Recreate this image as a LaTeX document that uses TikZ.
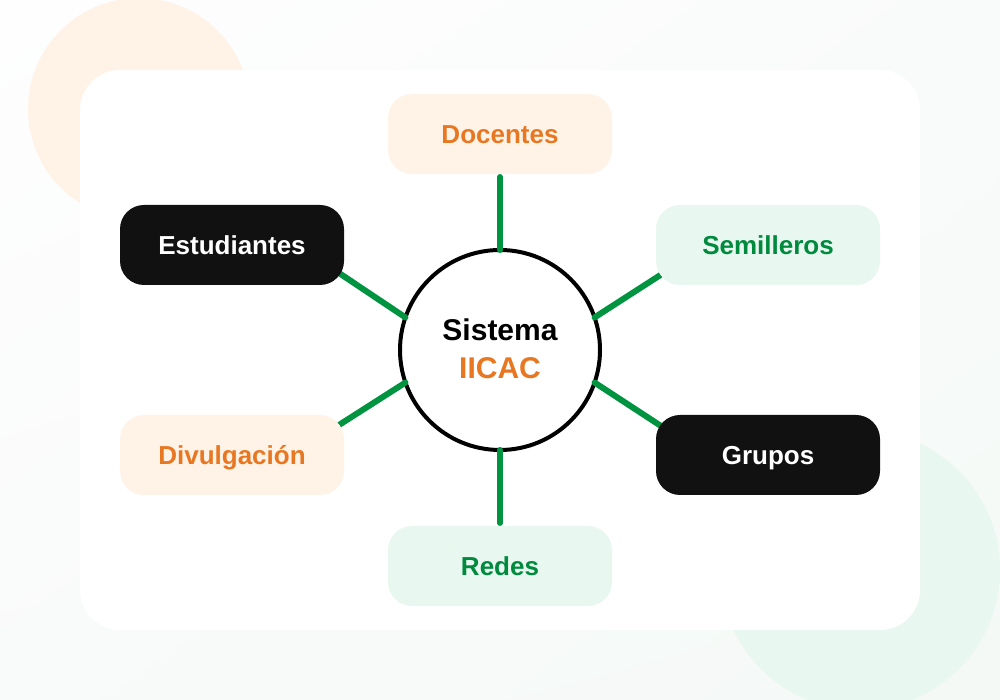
\documentclass[tikz,border=0pt]{standalone}
\usepackage{fontspec}
\setmainfont{Liberation Sans}
\usetikzlibrary{calc,shadings}
\definecolor{bgtl}{HTML}{FEFEFE}
\definecolor{bgtr}{HTML}{F9FBFA}
\definecolor{bgbl}{HTML}{F9FAFA}
\definecolor{bgbr}{HTML}{F4F9F6}
\definecolor{peach}{HTML}{FFF3E8}
\definecolor{mint}{HTML}{E8F7EF}
\definecolor{orangetxt}{HTML}{E87722}
\definecolor{greentxt}{HTML}{008A3E}
\definecolor{greenline}{HTML}{009440}
\definecolor{ink}{HTML}{111111}
\pgfdeclarelayer{bgl}
\pgfdeclarelayer{circ}
\pgfdeclarelayer{lines}
\pgfsetlayers{bgl,circ,lines,main}
\tikzset{
  box/.style={rectangle, rounded corners=24pt, minimum width=224pt, minimum height=80pt, inner sep=0pt, outer sep=0pt, text height=20pt, text depth=0pt, font=\fontsize{26}{30}\selectfont\bfseries},
  peachbox/.style={box, fill=peach, text=orangetxt},
  mintbox/.style={box, fill=mint, text=greentxt},
  darkbox/.style={box, fill=ink, text=white},
  conn/.style={draw=greenline, line width=6pt, line cap=round},
  hub/.style={circle, draw=black, line width=4pt, fill=white, minimum size=200pt, inner sep=0pt, outer sep=0pt},
  hubtxt/.style={font=\fontsize{30}{36}\selectfont\bfseries, anchor=base, inner sep=0pt}
}
\begin{document}
\begin{tikzpicture}[x=1pt,y=1pt]
\useasboundingbox (0,0) rectangle (1000,700);
\begin{pgfonlayer}{bgl}
  \shade[upper left=bgtl, upper right=bgtr, lower left=bgbl, lower right=bgbr] (0,0) rectangle (1000,700);
  \fill[peach] (139,591) circle[radius=111pt];
  \fill[mint] (860,130) circle[radius=140pt];
  \fill[white, rounded corners=40pt] (80,70) rectangle (920,630);
\end{pgfonlayer}
\begin{pgfonlayer}{circ}
  \node[hub] (c) at (500,350) {};
  \node[hubtxt, text=black] (t1) at (500,359) {Sistema};
  \node[hubtxt, text=orangetxt] (t2) at (500,321) {IICAC};
\end{pgfonlayer}
\node[peachbox] (doc) at (500,566) {Docentes};
\node[darkbox] (est) at (232,455) {Estudiantes};
\node[mintbox] (sem) at (768,455) {Semilleros};
\node[peachbox] (div) at (232,245) {Divulgación};
\node[darkbox] (gru) at (768,245) {Grupos};
\node[mintbox] (red) at (500,134) {Redes};
\begin{pgfonlayer}{lines}
  \draw[conn] ([yshift=-3pt]doc.south) -- (c.north);
  \draw[conn] ([yshift=3pt]red.north) -- (c.south);
  \draw[conn] ([shift={(-5pt,12pt)}]est.south east) -- (c.161);
  \draw[conn] ([shift={(6pt,11pt)}]sem.south west) -- (c.19);
  \draw[conn] ([shift={(-5pt,-10pt)}]div.north east) -- (c.199);
  \draw[conn] ([shift={(5pt,-11pt)}]gru.north west) -- (c.-19);
\end{pgfonlayer}
\end{tikzpicture}
\end{document}
